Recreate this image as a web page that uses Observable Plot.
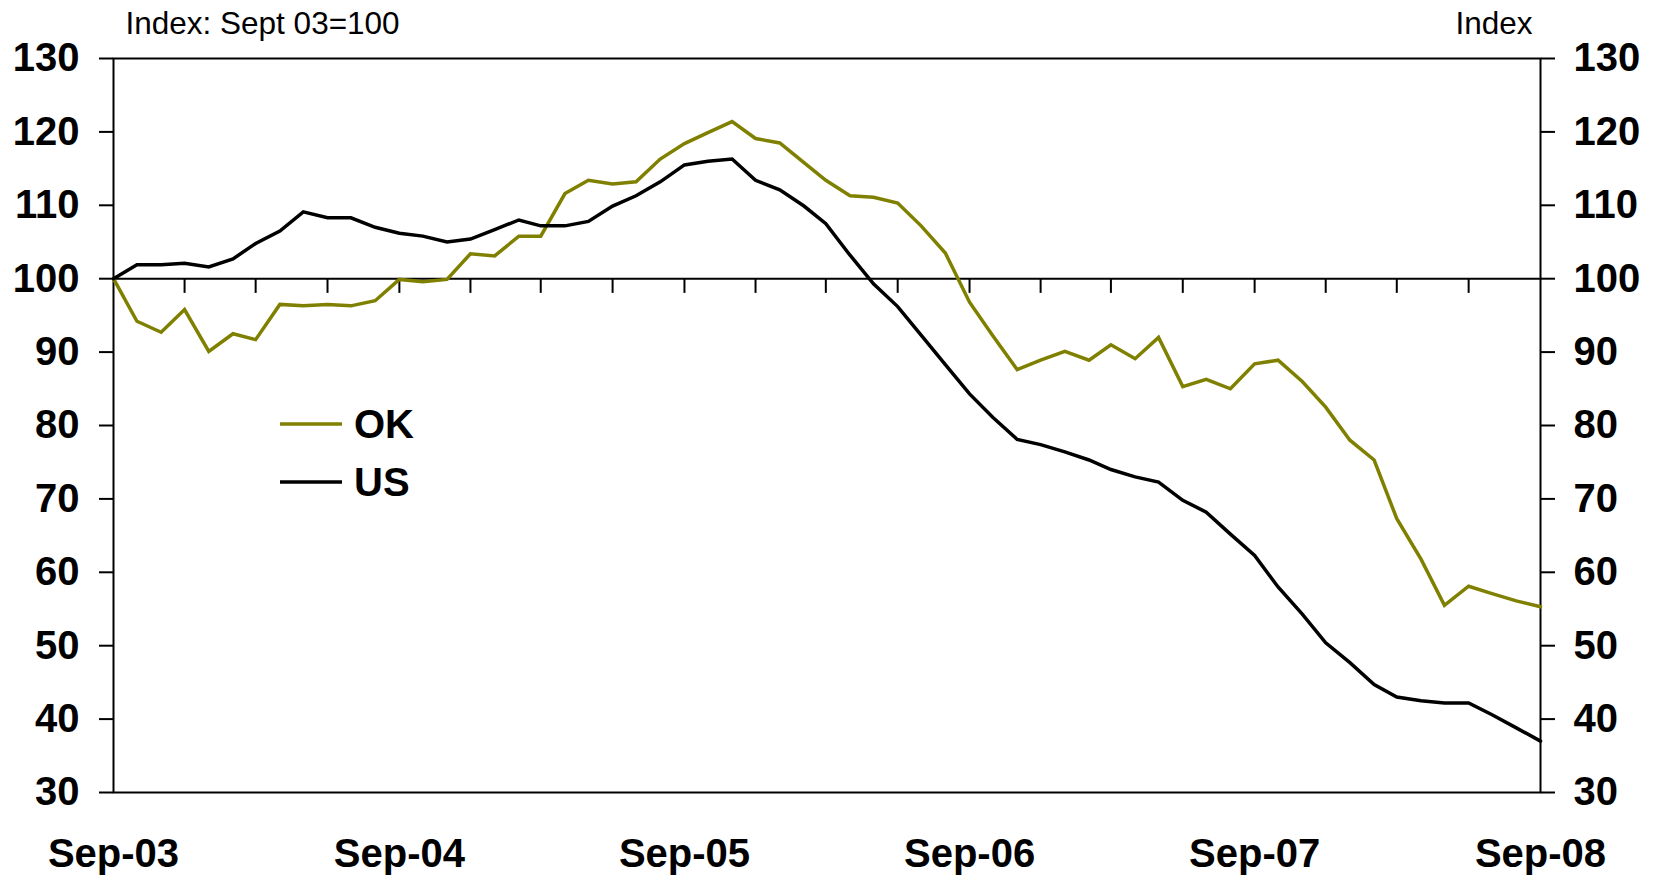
<!DOCTYPE html>
<html><head><meta charset="utf-8">
<script src="https://cdn.jsdelivr.net/npm/d3@7"></script>
<script src="https://cdn.jsdelivr.net/npm/@observablehq/plot@0.6"></script>
<style>html,body{margin:0;padding:0;background:#fff;overflow:hidden}</style>
</head><body><div id="chart"></div>
<script>
// ---- data (monthly, Sep-03 .. Sep-08, index Sep-03 = 100) ----
const seriesNames = ["OK", "US"];
const seriesColors = ["#808000", "#000000"];
const okValues = [100, 94.2, 92.7, 95.8, 90.1, 92.5, 91.7, 96.5, 96.3, 96.5, 96.3, 97.0,
  99.9, 99.6, 99.9, 103.4, 103.1, 105.8, 105.8, 111.6, 113.4, 112.9, 113.2, 116.3,
  118.4, 119.9, 121.4, 119.1, 118.5, 115.8, 113.4, 111.3, 111.1, 110.3, 107.2, 103.5,
  96.8, 92.2, 87.6, 88.9, 90.1, 88.9, 91.0, 89.1, 92.0, 85.3, 86.3, 85.0,
  88.4, 88.9, 86.0, 82.5, 78.0, 75.3, 67.3, 61.8, 55.5, 58.1, 57.1, 56.1, 55.3];
const usValues = [100, 101.9, 101.9, 102.1, 101.6, 102.7, 104.8, 106.5, 109.1, 108.3, 108.3, 107.0,
  106.2, 105.8, 105.0, 105.4, 106.7, 108.0, 107.2, 107.2, 107.8, 109.9, 111.3, 113.2,
  115.5, 116.0, 116.3, 113.4, 112.1, 109.9, 107.5, 103.2, 99.3, 96.2, 92.3, 88.3,
  84.3, 81.1, 78.1, 77.4, 76.4, 75.3, 74.0, 73.0, 72.3, 69.8, 68.2, 65.2,
  62.3, 58.0, 54.3, 50.4, 47.7, 44.7, 43.0, 42.5, 42.2, 42.2, 40.6, 38.8, 37.0];
const yTicks = [30, 40, 50, 60, 70, 80, 90, 100, 110, 120, 130];
const subtitleLeft = "Index: Sept 03=100";
const subtitleRight = "Index";

// ---- build table ----
const dates = d3.utcMonth.range(new Date(Date.UTC(2003, 8, 1)), new Date(Date.UTC(2008, 9, 1)));
const data = [];
seriesNames.forEach((s, k) => {
  const vals = k === 0 ? okValues : usValues;
  dates.forEach((d, i) => data.push({date: d, series: s, value: vals[i]}));
});
const quarterTicks = dates.filter((d, i) => i % 3 === 0 && i > 0 && i < dates.length - 1);
const yearTicks = dates.filter((d, i) => i % 12 === 0);

const font = "'Liberation Sans', Arial, Helvetica, sans-serif";
const plot = Plot.plot({
  width: 1654, height: 879,
  marginTop: 58, marginBottom: 87, marginLeft: 113, marginRight: 114,
  style: {fontFamily: font, fontSize: "40px", fontWeight: "bold", color: "#000", background: "#fff", overflow: "visible"},
  x: {type: "utc", domain: [dates[0], dates[dates.length - 1]]},
  y: {domain: [30, 130]},
  color: {domain: seriesNames, range: seriesColors},
  marks: [
    Plot.frame({stroke: "#000", strokeWidth: 2}),
    Plot.ruleY([100], {stroke: "#000", strokeWidth: 2}),
    Plot.ruleX(quarterTicks, {x: d => d, y1: 100, y2: 98, stroke: "#000", strokeWidth: 2}),
    Plot.axisY({anchor: "left", ticks: yTicks, tickSize: 14, tickPadding: 20, tickFormat: d => d, label: null, strokeWidth: 2}),
    Plot.axisY({anchor: "right", ticks: yTicks, tickSize: 14, tickPadding: 19, tickFormat: d => d, label: null, strokeWidth: 2}),
    Plot.axisX({anchor: "bottom", ticks: yearTicks, tickSize: 0, tickPadding: 46, tickFormat: d3.utcFormat("%b-%y"), label: null}),
    Plot.line(data, {x: "date", y: "value", z: "series", stroke: "series", strokeWidth: 3.5, strokeLinejoin: "miter", strokeMiterlimit: 3}),
    Plot.text([subtitleLeft], {text: d => d, frameAnchor: "top-left", dx: 12, dy: -35, textAnchor: "start", lineAnchor: "middle", fontSize: 31.5, fontWeight: "normal"}),
    Plot.text([subtitleRight], {text: d => d, frameAnchor: "top-right", dx: -8, dy: -35, textAnchor: "end", lineAnchor: "middle", fontSize: 31.5, fontWeight: "normal"})
  ]
});

// legend inside plot area
const svg = d3.select(plot);
const leg = svg.append("g").attr("text-anchor", "start");
seriesNames.forEach((name, i) => {
  const y = 424 + i * 58;
  leg.append("line").attr("x1", 280).attr("x2", 342).attr("y1", y).attr("y2", y)
    .attr("stroke", seriesColors[i]).attr("stroke-width", 3.5);
  leg.append("text").attr("x", 354).attr("y", y).attr("dy", "0.35em").attr("text-anchor", "start")
    .attr("font-size", 40).attr("font-weight", "bold").attr("fill", "#000").text(name);
});
document.getElementById("chart").appendChild(plot);
</script>
</body></html>
